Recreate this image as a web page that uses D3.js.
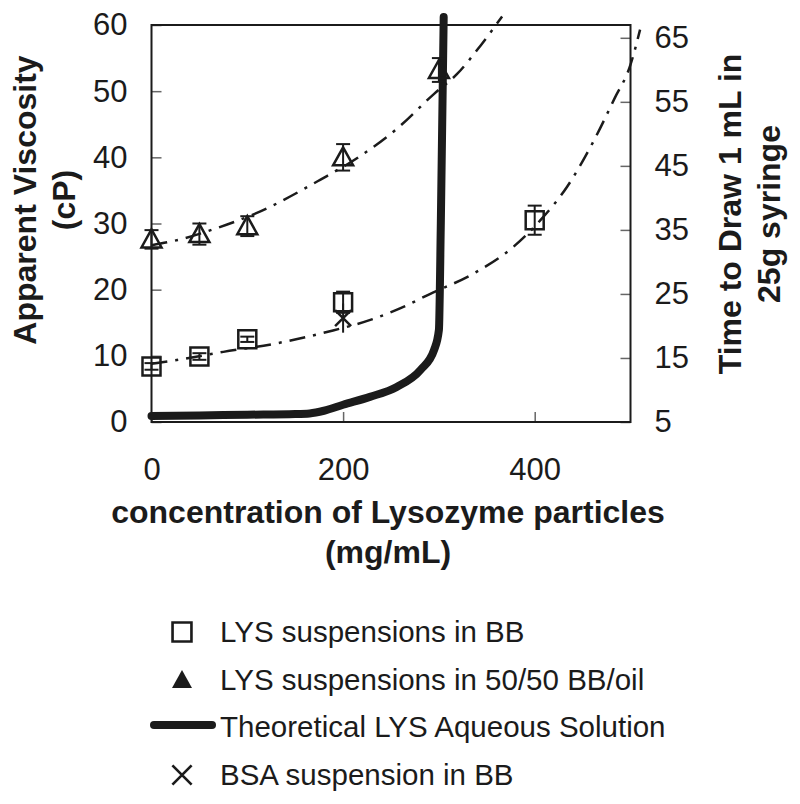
<!DOCTYPE html>
<html>
<head>
<meta charset="utf-8">
<script src="https://cdn.jsdelivr.net/npm/d3@7"></script>
<style>
  body { margin: 0; background: #fff; }
  svg { display: block; font-family: "Liberation Sans", Arial, sans-serif; }
</style>
</head>
<body>
<svg id="chart" width="800" height="804"></svg>
<script>
// tick labels
const xTicks = [0, 200, 400];
const yLeftTicks = [0, 10, 20, 30, 40, 50, 60];
const yRightTicks = [5, 15, 25, 35, 45, 55, 65];

// LYS suspensions in BB (squares)
const concBB = [0, 50, 100, 200, 400];
const viscBB = [8.4, 9.9, 12.5, 18.1, 30.5];
const errBB = [0.5, 0.5, 0.4, 1.6, 2.2];

// LYS suspensions in 50/50 BB/oil (triangles)
const concOil = [0, 50, 100, 200, 300];
const viscOil = [27.6, 28.4, 29.6, 40.0, 53.2];
const errOil = [1.4, 1.6, 1.5, 2.0, 1.8];

// BSA suspension in BB (x)
const concBSA = [200];
const viscBSA = [15.7];
const errBSA = [2.2];

// Theoretical LYS aqueous solution (thick line)
const theoX = [0, 50, 100, 150, 165, 180, 200, 228, 256, 281, 295, 300, 302, 305];
const theoY = [0.9, 1.0, 1.1, 1.2, 1.3, 1.7, 2.6, 3.8, 5.3, 7.9, 10.9, 13.9, 30, 61.2];

// dash-dot trend curves
const fitOilX = [0, 30, 68, 110, 176, 218, 256, 295, 319, 343, 366];
const fitOilY = [26.7, 27.6, 29.3, 31.6, 36.6, 40.2, 44.3, 49.6, 52.6, 56.8, 61.3];
const fitBBX = [0, 28, 75, 131, 183, 230, 260, 290, 337, 378, 406, 434, 462, 483, 500, 510];
const fitBBY = [8.8, 9.4, 10.6, 11.9, 13.6, 15.5, 17.2, 19.3, 22.5, 26.5, 30.5, 35.6, 42.6, 48.8, 54.0, 59.3];

const legendLabels = [
  "LYS suspensions in BB",
  "LYS suspensions in 50/50 BB/oil",
  "Theoretical LYS Aqueous Solution",
  "BSA suspension in BB"
];

const svg = d3.select("#chart");
const ink = "#1b1b1b";

const x = d3.scaleLinear().domain([0, 500]).range([151.5, 630.5]);
const yL = d3.scaleLinear().domain([0, 60]).range([422, 25]);
const yR = d3.scaleLinear().domain([5, 67]).range([422, 25]);

// 軸
const gx = svg.append("g")
  .attr("transform", "translate(0,422)")
  .call(d3.axisBottom(x).tickValues(xTicks).tickSize(-10).tickPadding(36));
const gl = svg.append("g")
  .attr("transform", "translate(151.5,0)")
  .call(d3.axisLeft(yL).tickValues(yLeftTicks).tickSize(-10).tickPadding(24));
const gr = svg.append("g")
  .attr("transform", "translate(630.5,0)")
  .call(d3.axisRight(yR).tickValues(yRightTicks).tickSize(-10).tickPadding(24));

[gx, gl, gr].forEach(g => {
  g.select(".domain").remove();
  g.selectAll(".tick line").attr("stroke", "#666").attr("stroke-width", 1.5);
  g.selectAll(".tick text")
    .attr("font-size", 31)
    .attr("fill", ink)
    .attr("font-family", "Liberation Sans, Arial, sans-serif");
});

// 枠
svg.append("rect")
  .attr("x", x(0)).attr("y", yL(60))
  .attr("width", x(500) - x(0)).attr("height", yL(0) - yL(60))
  .attr("fill", "none").attr("stroke", ink).attr("stroke-width", 2);

// 近似曲線
const fitLine = d3.line().x(d => x(d[0])).y(d => yL(d[1])).curve(d3.curveMonotoneX);
[[fitOilX, fitOilY], [fitBBX, fitBBY]].forEach(([xs, ys]) => {
  svg.append("path")
    .attr("d", fitLine(xs.map((v, i) => [v, ys[i]])))
    .attr("fill", "none")
    .attr("stroke", ink)
    .attr("stroke-width", 2.5)
    .attr("stroke-dasharray", "16,8,3,8");
});

// 理論曲線
svg.append("path")
  .attr("d", fitLine(theoX.map((v, i) => [v, theoY[i]])))
  .attr("fill", "none")
  .attr("stroke", ink)
  .attr("stroke-width", 8)
  .attr("stroke-linecap", "round")
  .attr("stroke-linejoin", "round");

// エラーバー
function errorBars(xs, ys, es, cap) {
  const g = svg.append("g").attr("stroke", ink).attr("stroke-width", 2);
  xs.forEach((v, i) => {
    const cx = x(v), top = yL(ys[i] + es[i]), bot = yL(ys[i] - es[i]);
    g.append("line").attr("x1", cx).attr("x2", cx).attr("y1", top).attr("y2", bot);
    if (cap) {
      g.append("line").attr("x1", cx - 7).attr("x2", cx + 7).attr("y1", top).attr("y2", top);
      g.append("line").attr("x1", cx - 7).attr("x2", cx + 7).attr("y1", bot).attr("y2", bot);
    }
  });
}
errorBars(concBB, viscBB, errBB, true);
errorBars(concOil, viscOil, errOil, true);
errorBars(concBSA, viscBSA, errBSA, false);

// マーカー
const squarePath = "M-9,-9H9V9H-9Z";
const trianglePath = "M0,-10L10,8H-10Z";
const crossPath = "M-8,-8L8,8M8,-8L-8,8";

svg.selectAll(".sq")
  .data(concBB.map((v, i) => [v, viscBB[i]]))
  .enter().append("path")
  .attr("transform", d => `translate(${x(d[0])},${yL(d[1])})`)
  .attr("d", squarePath)
  .attr("fill", "none").attr("stroke", ink).attr("stroke-width", 2.5);

svg.selectAll(".tri")
  .data(concOil.map((v, i) => [v, viscOil[i]]))
  .enter().append("path")
  .attr("transform", d => `translate(${x(d[0])},${yL(d[1])})`)
  .attr("d", trianglePath)
  .attr("fill", "none").attr("stroke", ink).attr("stroke-width", 2.5)
  .attr("stroke-linejoin", "miter");

svg.selectAll(".bsa")
  .data(concBSA.map((v, i) => [v, viscBSA[i]]))
  .enter().append("path")
  .attr("transform", d => `translate(${x(d[0])},${yL(d[1])})`)
  .attr("d", crossPath)
  .attr("fill", "none").attr("stroke", ink).attr("stroke-width", 2.5);

// 軸タイトル
const titleFont = 32;
function titleLines(lines, tx, ty, rotate, step) {
  const t = svg.append("text")
    .attr("font-size", titleFont)
    .attr("font-weight", "bold")
    .attr("fill", ink)
    .attr("text-anchor", "middle")
    .attr("transform", `translate(${tx},${ty})${rotate ? " rotate(-90)" : ""}`);
  lines.forEach((s, i) => {
    t.append("tspan").attr("x", 0).attr("y", i * step).text(s);
  });
}
titleLines(["concentration of Lysozyme particles", "(mg/mL)"], 388, 523, false, 40);
titleLines(["Apparent Viscosity", "(cP)"], 36, 200, true, 39);
titleLines(["Time to Draw 1 mL in", "25g syringe"], 741, 214, true, 39);

// 凡例
const legendY = [632, 680, 727, 775];
const lg = svg.append("g");
lg.append("path").attr("d", squarePath)
  .attr("transform", `translate(182,${legendY[0]}) scale(1.05)`)
  .attr("fill", "none").attr("stroke", ink).attr("stroke-width", 2.5);
lg.append("path").attr("d", trianglePath)
  .attr("transform", `translate(182,${legendY[1]})`)
  .attr("fill", ink);
lg.append("line")
  .attr("x1", 154).attr("x2", 212).attr("y1", legendY[2] - 2).attr("y2", legendY[2] - 2)
  .attr("stroke", ink).attr("stroke-width", 8).attr("stroke-linecap", "round");
lg.append("path").attr("d", crossPath)
  .attr("transform", `translate(182,${legendY[3]}) scale(1.2)`)
  .attr("fill", "none").attr("stroke", ink).attr("stroke-width", 2.2);

lg.selectAll("text.lab")
  .data(legendLabels)
  .enter().append("text")
  .attr("x", 220)
  .attr("y", (d, i) => legendY[i] + 10)
  .attr("font-size", 29.5)
  .attr("fill", ink)
  .text(d => d);
</script>
</body>
</html>
